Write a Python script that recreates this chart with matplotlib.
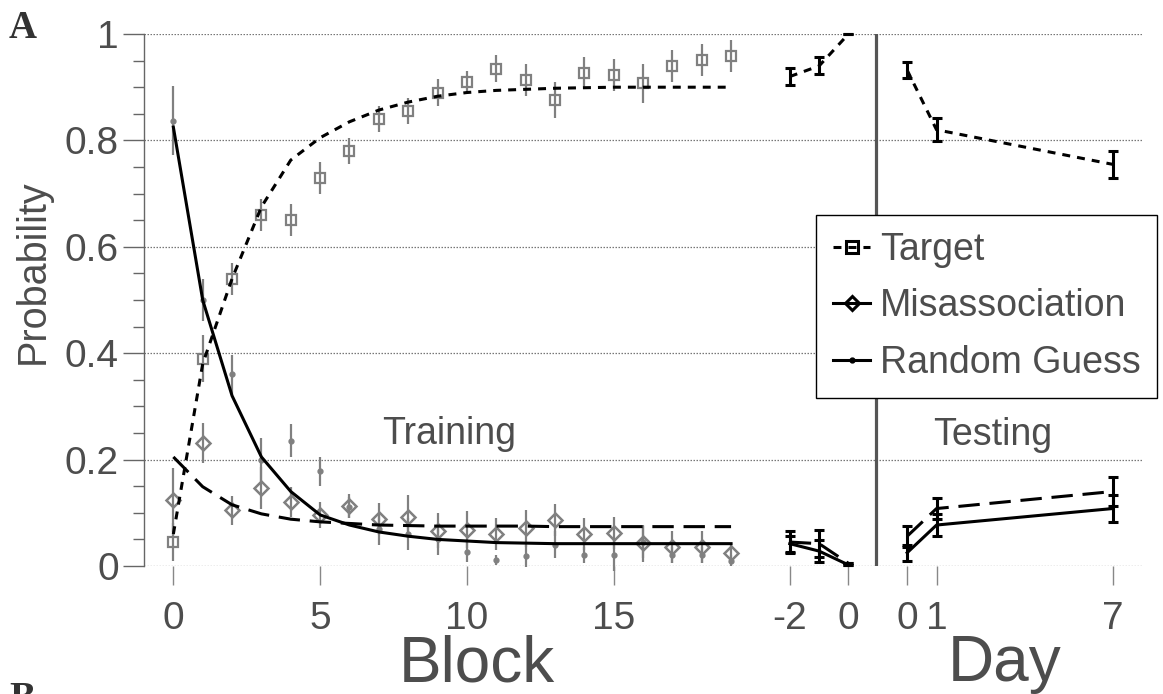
import matplotlib
matplotlib.use("Agg")
import matplotlib.pyplot as plt
from matplotlib.lines import Line2D
import numpy as np

plt.rcParams['font.family'] = ['Liberation Sans', 'DejaVu Sans']

# ---------------- data ----------------
blocks = list(range(20))
target_obs = [0.045, 0.39, 0.54, 0.66, 0.65, 0.73, 0.78, 0.84, 0.855, 0.89,
              0.91, 0.935, 0.913, 0.876, 0.926, 0.923, 0.907, 0.94, 0.951, 0.958]
target_err = [0.035, 0.045, 0.03, 0.03, 0.03, 0.03, 0.025, 0.025, 0.025, 0.025,
              0.02, 0.025, 0.03, 0.033, 0.03, 0.03, 0.037, 0.03, 0.03, 0.03]
mis_obs = [0.124, 0.231, 0.105, 0.147, 0.12, 0.096, 0.113, 0.088, 0.093, 0.066,
           0.068, 0.06, 0.071, 0.086, 0.06, 0.062, 0.043, 0.036, 0.036, 0.024]
mis_err = [0.06, 0.038, 0.027, 0.04, 0.028, 0.025, 0.022, 0.03, 0.04, 0.033,
           0.035, 0.03, 0.035, 0.03, 0.03, 0.03, 0.035, 0.03, 0.03, 0.02]
rand_obs = [0.837, 0.5, 0.36, 0.2, 0.235, 0.178, 0.11, 0.07, 0.06, 0.05,
            0.027, 0.011, 0.019, 0.04, 0.02, 0.02, 0.045, 0.02, 0.02, 0.01]
rand_err = [0.065, 0.04, 0.036, 0.04, 0.031, 0.027, 0.02, 0.03, 0.03, 0.03,
            0.02, 0.01, 0.02, 0.025, 0.015, 0.03, 0.03, 0.015, 0.015, 0.01]

target_model = [0.06, 0.38, 0.54, 0.675, 0.763, 0.805, 0.835, 0.857, 0.872, 0.883,
                0.89, 0.894, 0.896, 0.898, 0.899, 0.9, 0.9, 0.9, 0.9, 0.9]
mis_model = [0.205, 0.149, 0.115, 0.098, 0.088, 0.083, 0.08, 0.077, 0.076, 0.075,
             0.075, 0.075, 0.075, 0.074, 0.074, 0.074, 0.074, 0.074, 0.074, 0.074]
rand_model = [0.825, 0.5, 0.32, 0.205, 0.14, 0.096, 0.077, 0.064, 0.056, 0.05,
              0.047, 0.044, 0.043, 0.042, 0.042, 0.042, 0.042, 0.042, 0.042, 0.042]

pre_days = [-2, -1, 0]
pre_target = [0.92, 0.94, 1.0]
pre_target_err = [0.016, 0.016, 0.0]
pre_mis = [0.045, 0.042, 0.005]
pre_mis_err = [0.02, 0.025, 0.0]
pre_rand = [0.042, 0.028, 0.002]
pre_rand_err = [0.015, 0.02, 0.0]

test_days = [0, 1, 7]
test_target = [0.932, 0.82, 0.755]
test_target_err = [0.015, 0.022, 0.025]
test_mis = [0.056, 0.108, 0.14]
test_mis_err = [0.02, 0.02, 0.027]
test_rand = [0.025, 0.077, 0.108]
test_rand_err = [0.015, 0.02, 0.025]

block_ticks = [0, 5, 10, 15]
pre_tick_days = [-2, 0]
test_tick_days = [0, 1, 7]

# ---------------- layout constants ----------------
PRE_OFFSET = 23      # axis position of pre-test day 0
TEST_OFFSET = 25     # axis position of test day 0
DIVIDER = 23.93

W, H = 1163, 694
fig = plt.figure(figsize=(W / 100, H / 100), dpi=100)
ax = fig.add_axes([144 / W, (H - 566) / H, 998 / W, 532 / H])
ax.set_xlim(-1, 33)
ax.set_ylim(0, 1)

GRAY = '#808080'
TXT = '#4d4d4d'
LW = 2.2
target_ls = (0, (2.6, 2.3))
mis_ls = (0, (7.0, 3.2))

# grid
for gy in np.arange(0, 1.01, 0.2):
    ax.axhline(gy, color='#777777', lw=0.9, ls=(0, (1.2, 1.2)), zorder=0)

# training observations (gray)
ax.errorbar(blocks, target_obs, yerr=target_err, fmt='s', color=GRAY, mfc='none',
            mec=GRAY, ms=7, mew=1.6, elinewidth=1.6, capsize=0, zorder=2, clip_on=False)
ax.errorbar(blocks, mis_obs, yerr=mis_err, fmt='D', color=GRAY, mfc='none',
            mec=GRAY, ms=7, mew=1.8, elinewidth=1.6, capsize=0, zorder=2, clip_on=False)
ax.errorbar(blocks, rand_obs, yerr=rand_err, fmt='o', color=GRAY, mfc=GRAY,
            mec=GRAY, ms=3.5, elinewidth=1.6, capsize=0, zorder=2, clip_on=False)

# training model lines
ax.plot(blocks, target_model, color='k', lw=LW, ls=target_ls, zorder=3)
ax.plot(blocks, mis_model, color='k', lw=LW, ls=mis_ls, zorder=3)
ax.plot(blocks, rand_model, color='k', lw=LW, ls='-', zorder=3)

# pre-test and test segments
pre_x = [d + PRE_OFFSET for d in pre_days]
test_x = [d + TEST_OFFSET for d in test_days]
for xs, ys, es, ls in [(pre_x, pre_target, pre_target_err, target_ls),
                       (pre_x, pre_mis, pre_mis_err, mis_ls),
                       (pre_x, pre_rand, pre_rand_err, '-'),
                       (test_x, test_target, test_target_err, target_ls),
                       (test_x, test_mis, test_mis_err, mis_ls),
                       (test_x, test_rand, test_rand_err, '-')]:
    ax.plot(xs, ys, color='k', lw=LW, ls=ls, zorder=4, clip_on=False)
    ax.errorbar(xs, ys, yerr=es, fmt='none', ecolor='k', elinewidth=LW,
                capsize=3.5, capthick=LW, zorder=4, clip_on=False)

ax.axvline(DIVIDER, color='#555555', lw=2.3, zorder=5)

# ticks
xt = block_ticks + [d + PRE_OFFSET for d in pre_tick_days] + [d + TEST_OFFSET for d in test_tick_days]
xl = [str(b) for b in block_ticks] + [str(d) for d in pre_tick_days] + [str(d) for d in test_tick_days]
ax.set_xticks(xt)
ax.set_xticklabels(xl)
ax.set_yticks([0, 0.2, 0.4, 0.6, 0.8, 1.0])
ax.set_yticklabels(['0', '0.2', '0.4', '0.6', '0.8', '1'])
ax.set_yticks(np.arange(0, 1.001, 0.05), minor=True)
ax.tick_params(axis='y', which='major', direction='out', length=15, width=1.0,
               color='#666666', labelsize=28, labelcolor=TXT, pad=3)
ax.tick_params(axis='y', which='minor', direction='out', length=8, width=1.0,
               color='#666666')
ax.tick_params(axis='x', which='major', direction='out', length=14, width=1.0,
               color='#888888', labelsize=28, labelcolor=TXT, pad=11)
for s in ['top', 'right', 'bottom']:
    ax.spines[s].set_visible(False)
ax.spines['left'].set_color('#666666')
ax.spines['left'].set_linewidth(1.0)

# texts
ax.text(9.4, 0.229, 'Training', fontsize=27, color=TXT, ha='center', va='baseline')
ax.text(27.9, 0.227, 'Testing', fontsize=27, color=TXT, ha='center', va='baseline')
fig.text(477 / W, 1 - 681 / H, 'Block', fontsize=46, color=TXT, ha='center', va='baseline')
fig.text(1005 / W, 1 - 681 / H, 'Day', fontsize=46, color=TXT, ha='center', va='baseline')
fig.text(33 / W, 1 - 272 / H, 'Probability', fontsize=28.5, color=TXT, rotation=90,
         ha='center', va='center')
fig.text(9 / W, 1 - 10 / H, 'A', fontsize=28, fontweight='bold', family='Liberation Serif',
         color='#333333', ha='left', va='top')
fig.text(9 / W, 1 - 681 / H, 'B', fontsize=28, fontweight='bold', family='Liberation Serif',
         color='#333333', ha='left', va='top')

# legend
handles = [
    Line2D([], [], color='k', lw=LW, ls=target_ls, marker='s', ms=8, mfc='none', mec='k', mew=2.2),
    Line2D([], [], color='k', lw=LW, ls='-', marker='D', ms=7, mfc='none', mec='k', mew=2.2),
    Line2D([], [], color='k', lw=LW, ls='-', marker='o', ms=3.5, mfc='k', mec='k'),
]
leg = ax.legend(handles, ['Target', 'Misassociation', 'Random Guess'],
                loc='upper left', bbox_to_anchor=((816 - 144) / 998, (566 - 215) / 532),
                fontsize=27, frameon=True, fancybox=False, framealpha=1, edgecolor='k',
                handlelength=1.0, handletextpad=0.25, borderpad=0.45, labelspacing=0.55,
                borderaxespad=0, numpoints=1)
leg.get_frame().set_linewidth(1.0)
for t in leg.get_texts():
    t.set_color(TXT)
leg.set_zorder(6)

fig.savefig('out.png', dpi=100)
